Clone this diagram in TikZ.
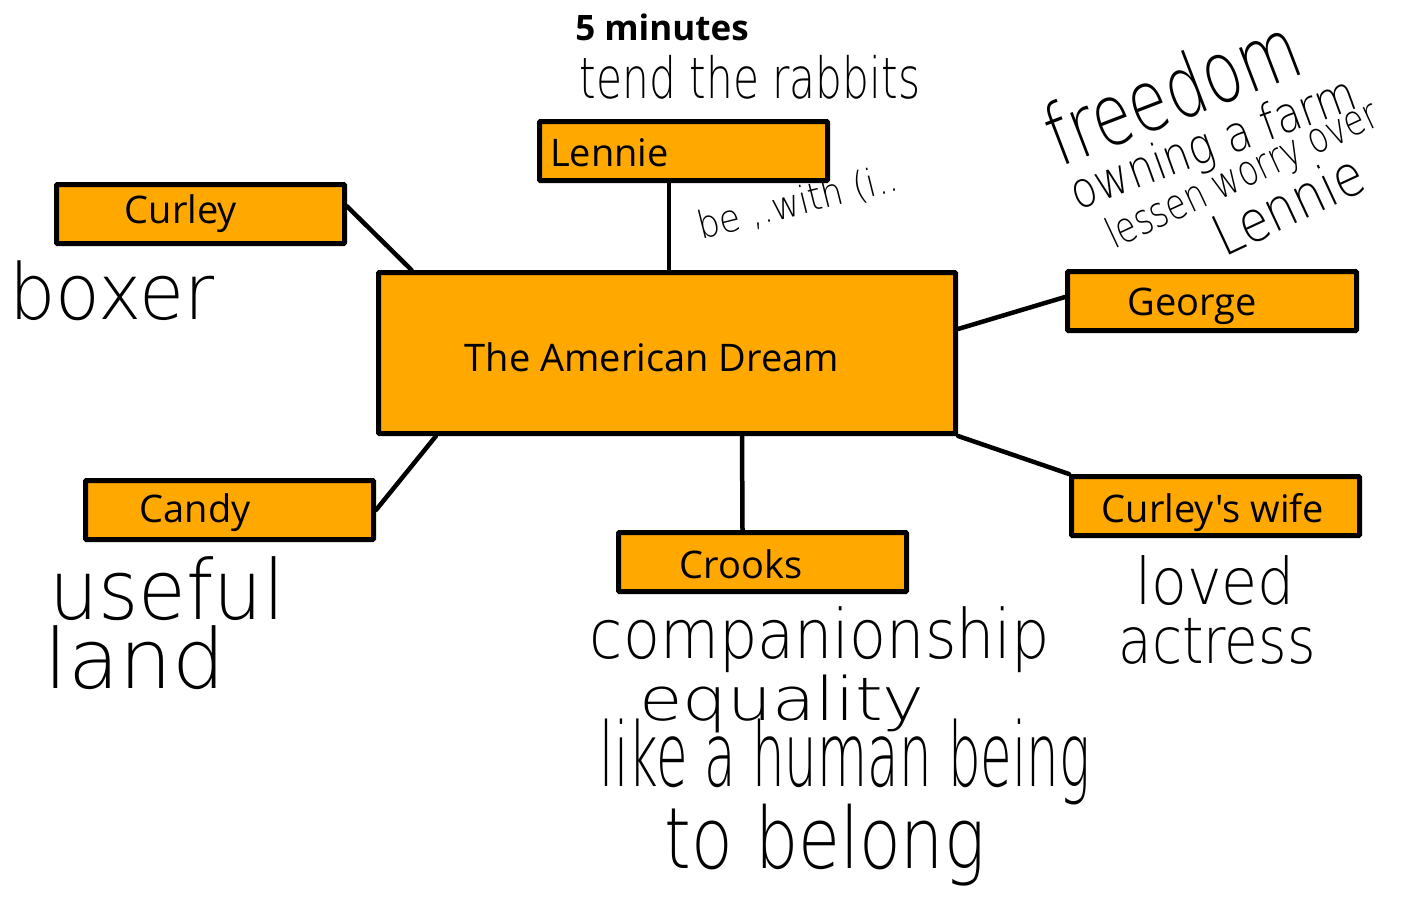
\documentclass[tikz,border=0pt]{standalone}
\usepackage{fontspec}
\usepackage{graphicx}
\newfontfamily\comic{Open Sans}
\newfontfamily\handfont{DejaVuSans-ExtraLight.ttf}
\definecolor{boxorange}{RGB}{255,168,0}
\newcommand\hwh[3]{\resizebox*{#1pt}{#2pt}{\handfont #3}}
\begin{document}
\begin{tikzpicture}[x=1pt,y=-1pt,
  box/.style={draw=black,fill=boxorange,line width=5pt,rounded corners=1pt,inner sep=0pt},
  lbl/.style={font=\comic\fontsize{38}{44}\selectfont,inner sep=0pt},
  hand/.style={inner sep=0pt},
  link/.style={line width=4.5pt,line cap=round}]
\useasboundingbox (0,0) rectangle (1408,898);
% boxes
\node[box,minimum width=577pt,minimum height=161pt] (center) at (667,353) {};
\node[box,minimum width=288pt,minimum height=59pt] (curley) at (200.5,214) {};
\node[box,minimum width=288pt,minimum height=59pt] (lennie) at (683.5,151) {};
\node[box,minimum width=289pt,minimum height=59pt] (george) at (1212,301) {};
\node[box,minimum width=288pt,minimum height=59pt] (candy) at (229.5,510) {};
\node[box,minimum width=288pt,minimum height=59pt] (crooks) at (762.5,562) {};
\node[box,minimum width=288pt,minimum height=59pt] (wife) at (1215.5,506) {};
% labels
\node[lbl] (centerT) at (652,357) {The American Dream};
\node[lbl] (curleyT) at (181,214) {Curley};
\node[lbl,anchor=west] (lennieT) at (550,153) {Lennie};
\node[lbl] (georgeT) at (1192,306) {George};
\node[lbl] (candyT) at (195,513) {Candy};
\node[lbl] (crooksT) at (741,564) {Crooks};
\node[lbl] (wifeT) at (1213,513) {Curley's wife};
% connectors
\draw[link] (curley.3.6) -- (center.162.7);
\draw[link] ([xshift=-14.5pt]lennie.south) -- ([xshift=2pt]center.north);
\draw[link] ([yshift=4pt]george.west) -- ([yshift=24pt]center.east);
\draw[link] (candy.east) -- ([xshift=-231pt]center.south);
\draw[link] ([xshift=-20pt]crooks.north) -- ([xshift=75pt]center.south);
\draw[link] (wife.north west) -- (center.south east);
% annotations
\node[hand,font=\comic\bfseries\fontsize{35}{40}\selectfont] (mins) at (662,27) {5 minutes};
\node[hand] (tend) at (750,77) {\hwh{340}{44}{tend the rabbits}};
\node[hand,rotate=14] (bewith) at (798,203) {\hwh{205}{34}{be ,.with (i..}};
\node[hand,rotate=21] (freedom) at (1172,90) {\hwh{265}{66}{freedom}};
\node[hand,rotate=20] (owning) at (1214,146) {\hwh{300}{48}{owning a farm}};
\node[hand,rotate=25] (lessen) at (1243,176) {\hwh{295}{40}{lessen worry over}};
\node[hand,rotate=25] (lennieN) at (1288,204) {\hwh{160}{44}{Lennie}};
\node[hand] (boxer) at (112,291) {\hwh{205}{60}{boxer}};
\node[hand] (useful) at (167,589) {\hwh{235}{64}{useful}};
\node[hand] (land) at (135,658) {\hwh{180}{64}{land}};
\node[hand] (compan) at (820,640) {\hwh{460}{66}{companionship}};
\node[hand] (equal) at (782,704) {\hwh{285}{58}{equality}};
\node[hand] (human) at (845,762) {\hwh{490}{86}{like a human being}};
\node[hand] (belong) at (825,845) {\hwh{320}{82}{to belong}};
\node[hand] (loved) at (1215,581) {\hwh{160}{50}{loved}};
\node[hand] (actress) at (1217,641) {\hwh{197}{46}{actress}};
\end{tikzpicture}
\end{document}
